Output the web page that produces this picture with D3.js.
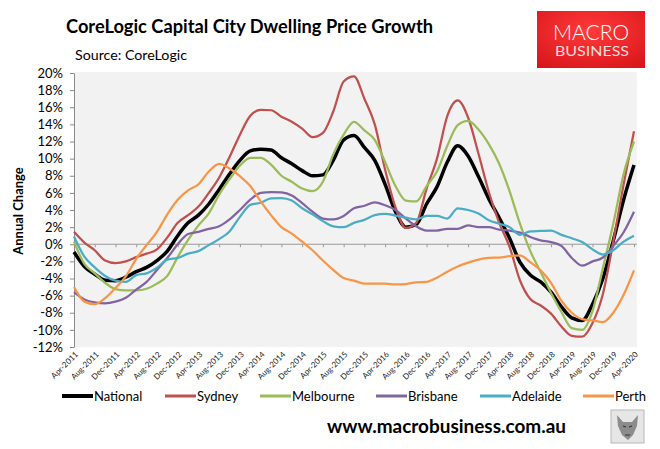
<!DOCTYPE html>
<html>
<head>
<meta charset="utf-8">
<script src="https://cdn.jsdelivr.net/npm/d3@7"></script>
<style>
  html, body { margin: 0; padding: 0; background: #fff; }
  svg { display: block; }
  text { font-family: Lato, "Open Sans", sans-serif; }
</style>
</head>
<body>
<svg id="chart"></svg>
<script>
// Data: every second month, Apr-2011 .. Apr-2020, annual change in %
const months = [
  "2011-04", "2011-06", "2011-08", "2011-10", "2011-12",
  "2012-02", "2012-04", "2012-06", "2012-08", "2012-10", "2012-12",
  "2013-02", "2013-04", "2013-06", "2013-08", "2013-10", "2013-12",
  "2014-02", "2014-04", "2014-06", "2014-08", "2014-10", "2014-12",
  "2015-02", "2015-04", "2015-06", "2015-08", "2015-10", "2015-12",
  "2016-02", "2016-04", "2016-06", "2016-08", "2016-10", "2016-12",
  "2017-02", "2017-04", "2017-06", "2017-08", "2017-10", "2017-12",
  "2018-02", "2018-04", "2018-06", "2018-08", "2018-10", "2018-12",
  "2019-02", "2019-04", "2019-06", "2019-08", "2019-10", "2019-12",
  "2020-02", "2020-04"
];

const national = [-0.9, -2.6, -3.5, -4.2, -4.25, -3.85, -3.2, -2.7, -1.9, -0.8, 1.0, 2.5, 3.4, 4.7, 6.4, 8.2, 9.8, 10.9, 11.1, 11.0, 10.1, 9.4, 8.6, 8.0, 8.1, 9.8, 12.2, 12.7, 11.3, 9.8, 7.0, 3.8, 2.0, 2.3, 4.7, 6.7, 9.6, 11.5, 10.3, 7.9, 5.3, 3.1, 0.7, -2.1, -3.6, -4.4, -5.6, -7.3, -8.6, -8.9, -7.0, -4.0, 0.4, 5.2, 9.25];
const sydney = [1.45, 0.2, -0.7, -1.9, -2.2, -2.0, -1.5, -1.1, -0.6, 0.8, 2.5, 3.4, 4.4, 6.0, 7.8, 10.2, 12.8, 15.0, 15.7, 15.65, 14.9, 14.3, 13.5, 12.5, 13.0, 15.5, 19.0, 19.6, 17.0, 14.0, 8.7, 4.3, 1.9, 2.5, 6.5, 10.0, 15.0, 16.8, 14.8, 10.6, 6.1, 2.5, -0.3, -4.2, -6.4, -7.15, -8.1, -9.6, -10.7, -10.8, -9.2, -5.8, 0.3, 7.0, 13.2];
const melbourne = [0.3, -2.3, -3.4, -4.5, -5.25, -5.4, -5.4, -5.2, -4.6, -3.7, -1.5, 0.5, 2.2, 3.6, 5.8, 7.6, 9.2, 10.1, 10.1, 9.3, 8.0, 7.3, 6.5, 6.2, 7.3, 10.5, 12.8, 14.3, 13.3, 12.2, 9.6, 6.8, 5.1, 5.0, 6.8, 8.5, 11.5, 13.9, 14.4, 13.4, 11.7, 9.4, 6.2, 2.4, -0.8, -3.25, -5.7, -7.9, -9.8, -10.0, -7.8, -2.8, 2.4, 8.2, 12.0];
const brisbane = [-5.6, -6.45, -6.8, -6.9, -6.7, -6.25, -5.3, -4.4, -3.0, -1.6, 0.0, 1.2, 1.45, 1.8, 2.1, 2.9, 4.0, 5.2, 6.0, 6.1, 6.05, 5.7, 4.8, 3.8, 3.0, 2.9, 3.3, 4.2, 4.5, 4.9, 4.55, 4.0, 3.0, 2.1, 1.6, 1.6, 1.8, 1.8, 2.2, 2.0, 2.0, 1.7, 1.6, 1.35, 0.85, 0.45, 0.25, -0.2, -1.6, -2.5, -2.0, -1.55, -0.2, 1.4, 3.8];
const adelaide = [0.9, -1.45, -2.7, -3.7, -4.25, -4.4, -3.6, -3.4, -2.75, -1.8, -1.6, -1.1, -0.8, -0.1, 0.6, 1.5, 3.2, 4.6, 4.85, 5.35, 5.4, 5.1, 4.2, 3.5, 2.7, 2.1, 2.0, 2.5, 2.85, 3.4, 3.55, 3.35, 3.1, 2.9, 3.3, 3.3, 3.0, 4.2, 4.0, 3.6, 2.8, 2.4, 2.0, 1.1, 1.5, 1.55, 1.6, 1.1, 0.7, 0.25, -0.6, -1.2, -0.7, 0.3, 1.0];
const perth = [-5.0, -6.7, -7.0, -6.3, -5.1, -3.75, -1.7, -0.1, 1.45, 3.5, 5.2, 6.3, 7.0, 8.5, 9.4, 8.85, 7.95, 6.8, 5.0, 3.4, 2.0, 1.25, 0.3, -0.7, -1.9, -3.0, -3.95, -4.25, -4.6, -4.6, -4.6, -4.7, -4.65, -4.45, -4.4, -3.9, -3.2, -2.6, -2.15, -1.8, -1.6, -1.55, -1.4, -1.3, -2.1, -3.05, -4.5, -6.6, -8.0, -8.75, -8.9, -9.1, -8.0, -5.9, -3.05];

const seriesNames = ["National", "Sydney", "Melbourne", "Brisbane", "Adelaide", "Perth"];
const seriesValues = [national, sydney, melbourne, brisbane, adelaide, perth];
const seriesColors = ["#000000", "#c0504d", "#9bbb59", "#8064a2", "#4bacc6", "#f79646"];

const xTickLabels = [
  "Apr-2011", "Aug-2011", "Dec-2011", "Apr-2012", "Aug-2012", "Dec-2012",
  "Apr-2013", "Aug-2013", "Dec-2013", "Apr-2014", "Aug-2014", "Dec-2014",
  "Apr-2015", "Aug-2015", "Dec-2015", "Apr-2016", "Aug-2016", "Dec-2016",
  "Apr-2017", "Aug-2017", "Dec-2017", "Apr-2018", "Aug-2018", "Dec-2018",
  "Apr-2019", "Aug-2019", "Dec-2019", "Apr-2020"
];
const yTicks = [-12, -10, -8, -6, -4, -2, 0, 2, 4, 6, 8, 10, 12, 14, 16, 18, 20];

(function () {
  'use strict';

  const W = 660, H = 449;
  const plot = { left: 74, right: 637, top: 73, bottom: 347 };

  const svg = d3.select("#chart").attr("width", W).attr("height", H);

  // months counted from the first one so the axis is evenly spaced like a category axis
  const start = new Date(2011, 3, 1);
  const parseM = d3.timeParse("%Y-%m");
  const parseL = d3.timeParse("%b-%Y");
  const idx = d => d3.timeMonth.count(start, d);

  const x = d3.scaleLinear().domain([0, 108]).range([plot.left, 634]);
  const y = d3.scaleLinear().domain([-12, 20]).range([plot.bottom, plot.top]);

  // plot background
  svg.append("rect")
    .attr("x", plot.left).attr("y", plot.top - 1)
    .attr("width", plot.right - plot.left).attr("height", plot.bottom - plot.top + 1)
    .attr("fill", "#f2f2f2");

  // zero line with month ticks
  svg.append("line")
    .attr("x1", plot.left).attr("x2", plot.right)
    .attr("y1", y(0)).attr("y2", y(0))
    .attr("stroke", "#9a9a9a").attr("stroke-width", 1);

  const tickIdx = xTickLabels.map(l => idx(parseL(l)));

  const xTicks = svg.append("g")
    .attr("transform", `translate(0,${y(0)})`)
    .call(d3.axisBottom(x).tickValues(tickIdx).tickSize(3).tickFormat(""));
  xTicks.select(".domain").remove();
  xTicks.selectAll("line").attr("stroke", "#9a9a9a");

  // rotated month labels under the plot
  const xLabels = svg.append("g")
    .attr("transform", `translate(0,${plot.bottom})`)
    .call(d3.axisBottom(x).tickValues(tickIdx).tickSize(0)
      .tickFormat((d, i) => xTickLabels[i]));
  xLabels.select(".domain").remove();
  xLabels.selectAll("text")
    .attr("x", 0).attr("y", 0).attr("dy", 0)
    .attr("text-anchor", "end")
    .attr("transform", "translate(4,8) rotate(-45)")
    .attr("font-family", "Lato")
    .attr("font-size", 8)
    .attr("fill", "#222");

  // y axis
  const yAxis = svg.append("g")
    .attr("transform", `translate(${plot.left},0)`)
    .call(d3.axisLeft(y).tickValues(yTicks).tickSize(4).tickSizeOuter(0)
      .tickFormat(d => d + "%"));
  yAxis.select(".domain").attr("stroke", "#8a8a8a");
  yAxis.selectAll("line").attr("stroke", "#8a8a8a");
  yAxis.selectAll("text")
    .attr("x", -11)
    .attr("font-family", "Lato")
    .attr("font-size", 13)
    .attr("fill", "#000");

  svg.append("text")
    .attr("transform", "translate(23,211) rotate(-90)")
    .attr("text-anchor", "middle")
    .attr("font-size", 13).attr("font-weight", "bold")
    .text("Annual Change");

  // lines
  const line = d3.line()
    .x(d => x(d.i))
    .y(d => y(d.v))
    .curve(d3.curveMonotoneX);

  seriesValues.forEach((vals, s) => {
    const pts = vals.map((v, k) => ({ i: idx(parseM(months[k])), v: v }));
    svg.append("path")
      .datum(pts)
      .attr("fill", "none")
      .attr("stroke", seriesColors[s])
      .attr("stroke-width", s === 0 ? 3.5 : 2.25)
      .attr("stroke-linejoin", "round")
      .attr("d", line);
  });

  // titles
  svg.append("text")
    .attr("x", 66).attr("y", 33)
    .attr("font-size", 18).attr("font-weight", "bold")
    .attr("textLength", 367).attr("lengthAdjust", "spacingAndGlyphs")
    .text("CoreLogic Capital City Dwelling Price Growth");

  svg.append("text")
    .attr("x", 75).attr("y", 60)
    .attr("font-size", 14)
    .attr("textLength", 112).attr("lengthAdjust", "spacingAndGlyphs")
    .text("Source: CoreLogic");

  // legend
  const legendX = [62, 165, 260, 376, 480, 583];
  const legend = svg.append("g");
  seriesNames.forEach((n, s) => {
    legend.append("line")
      .attr("x1", legendX[s]).attr("x2", legendX[s] + 31)
      .attr("y1", 396).attr("y2", 396)
      .attr("stroke", seriesColors[s])
      .attr("stroke-width", s === 0 ? 4 : 3);
    legend.append("text")
      .attr("x", legendX[s] + 32).attr("y", 401)
      .attr("font-size", 13)
      .text(n);
  });

  // logo
  const defs = svg.append("defs");
  const grad = defs.append("radialGradient").attr("id", "logoGrad")
    .attr("cx", "50%").attr("cy", "35%").attr("r", "75%");
  grad.append("stop").attr("offset", "0%").attr("stop-color", "#ff3b3b");
  grad.append("stop").attr("offset", "100%").attr("stop-color", "#d9161b");

  svg.append("rect")
    .attr("x", 537).attr("y", 11).attr("width", 108).attr("height", 57)
    .attr("fill", "url(#logoGrad)");
  svg.append("text")
    .attr("x", 591).attr("y", 40)
    .attr("text-anchor", "middle")
    .attr("font-family", "Roboto").attr("font-weight", 300)
    .attr("font-size", 21).attr("fill", "#fff")
    .attr("textLength", 76).attr("lengthAdjust", "spacingAndGlyphs")
    .text("MACRO");
  svg.append("text")
    .attr("x", 592).attr("y", 55.5)
    .attr("text-anchor", "middle")
    .attr("font-family", "Roboto")
    .attr("font-size", 12.5).attr("fill", "#fbdcdc")
    .attr("textLength", 74).attr("lengthAdjust", "spacingAndGlyphs")
    .text("BUSINESS");

  // footer
  svg.append("text")
    .attr("x", 327).attr("y", 433)
    .attr("font-size", 18).attr("font-weight", "bold")
    .attr("textLength", 239).attr("lengthAdjust", "spacingAndGlyphs")
    .text("www.macrobusiness.com.au");

  // small wolf badge
  const badge = svg.append("g").attr("transform", "translate(611,410)");
  badge.append("rect").attr("width", 33).attr("height", 33)
    .attr("fill", "#e6e6e6").attr("stroke", "#b8b8b8");
  badge.append("path")
    .attr("d", "M6,5 L12,12 L21,12 L27,5 L26,16 L22,25 L17,30 L11,25 L7,16 Z")
    .attr("fill", "#8c8c8c");
  badge.append("path")
    .attr("d", "M12,16 L15,17 M21,16 L18,17 M14,25 L19,25")
    .attr("stroke", "#333").attr("stroke-width", 1.2);
})();
</script>
</body>
</html>
